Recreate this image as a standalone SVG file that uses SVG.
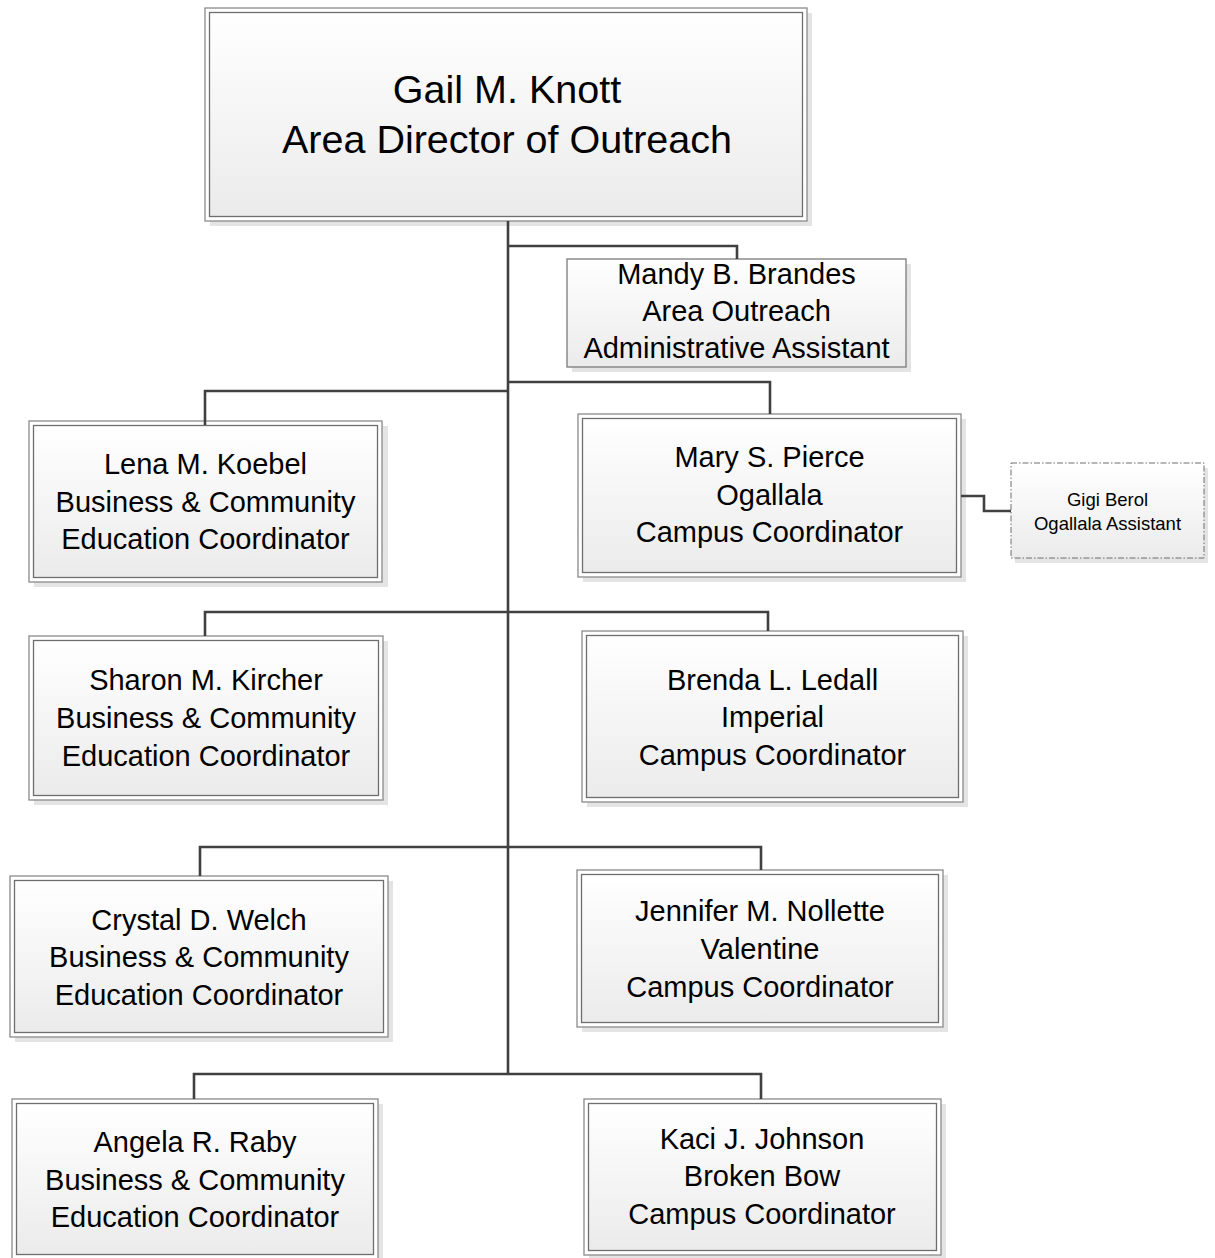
<svg xmlns="http://www.w3.org/2000/svg" width="1215" height="1258" viewBox="0 0 1215 1258">
<defs>
<linearGradient id="fillGrad" x1="0" y1="0" x2="0" y2="1">
<stop offset="0" stop-color="#ffffff"/>
<stop offset="1" stop-color="#ebebeb"/>
</linearGradient>
</defs>
<style>
.shadow{fill:#e4e4e4;stroke:none}
.outer{fill:#ffffff;stroke:#8a8a8a;stroke-width:1.3}
.inner{fill:url(#fillGrad);stroke:#6e6e6e;stroke-width:1.3}
.single{fill:url(#fillGrad);stroke:#7a7a7a;stroke-width:1.3}
.dashed{fill:url(#fillGrad);stroke:#6e6e6e;stroke-width:1;stroke-dasharray:6 2 1.5 2}
.conn{fill:none;stroke:#404040;stroke-width:2.6}
text{font-family:"Liberation Sans",Arial,sans-serif;fill:#000;text-anchor:middle}
.t-big{font-size:39.5px}
.t-mid{font-size:29px}
.t-small{font-size:18.5px}
</style>
<rect width="1215" height="1258" fill="#ffffff"/>

<g id="node-gail">
<rect class="shadow" x="210" y="13" width="602" height="213"/>
<rect class="outer" x="205" y="8" width="602" height="213"/>
<rect class="inner" x="209.5" y="12.5" width="593" height="204"/>
<text class="t-big" x="507" y="103">Gail M. Knott</text>
<text class="t-big" x="507" y="153">Area Director of Outreach</text>
</g>

<g id="node-mandy">
<rect class="shadow" x="572" y="264" width="339" height="108"/>
<rect class="single" x="567" y="259" width="339" height="108"/>
<text class="t-mid" x="736.5" y="283.5">Mandy B. Brandes</text>
<text class="t-mid" x="736.5" y="321">Area Outreach</text>
<text class="t-mid" x="736.5" y="358">Administrative Assistant</text>
</g>

<g id="node-lena">
<rect class="shadow" x="34" y="426" width="354" height="161"/>
<rect class="outer" x="29" y="421" width="353" height="161"/>
<rect class="inner" x="33.5" y="425.5" width="344" height="152"/>
<text class="t-mid" x="205.5" y="474">Lena M. Koebel</text>
<text class="t-mid" x="205.5" y="511.5">Business &amp; Community</text>
<text class="t-mid" x="205.5" y="549">Education Coordinator</text>
</g>

<g id="node-mary">
<rect class="shadow" x="583" y="419" width="383" height="163"/>
<rect class="outer" x="578" y="414" width="383" height="163"/>
<rect class="inner" x="582.5" y="418.5" width="374" height="154"/>
<text class="t-mid" x="769.5" y="467">Mary S. Pierce</text>
<text class="t-mid" x="769.5" y="505">Ogallala</text>
<text class="t-mid" x="769.5" y="542">Campus Coordinator</text>
</g>

<g id="node-gigi">
<rect class="shadow" x="1015" y="468" width="193" height="95"/>
<rect class="dashed" x="1011" y="463" width="193" height="95"/>
<text class="t-small" x="1107.5" y="506">Gigi Berol</text>
<text class="t-small" x="1107.5" y="530">Ogallala Assistant</text>
</g>

<g id="node-sharon">
<rect class="shadow" x="34" y="641" width="354" height="164"/>
<rect class="outer" x="29" y="636" width="354" height="164"/>
<rect class="inner" x="33.5" y="640.5" width="345" height="155"/>
<text class="t-mid" x="206" y="690">Sharon M. Kircher</text>
<text class="t-mid" x="206" y="728">Business &amp; Community</text>
<text class="t-mid" x="206" y="765.5">Education Coordinator</text>
</g>

<g id="node-brenda">
<rect class="shadow" x="587" y="636" width="381" height="171"/>
<rect class="outer" x="582" y="631" width="381" height="171"/>
<rect class="inner" x="586.5" y="635.5" width="372" height="162"/>
<text class="t-mid" x="772.5" y="689.5">Brenda L. Ledall</text>
<text class="t-mid" x="772.5" y="727">Imperial</text>
<text class="t-mid" x="772.5" y="764.5">Campus Coordinator</text>
</g>

<g id="node-crystal">
<rect class="shadow" x="15" y="881" width="378" height="161"/>
<rect class="outer" x="10" y="876" width="378" height="161"/>
<rect class="inner" x="14.5" y="880.5" width="369" height="152"/>
<text class="t-mid" x="199" y="929.5">Crystal D. Welch</text>
<text class="t-mid" x="199" y="967">Business &amp; Community</text>
<text class="t-mid" x="199" y="1004.5">Education Coordinator</text>
</g>

<g id="node-jennifer">
<rect class="shadow" x="582" y="875" width="366" height="157"/>
<rect class="outer" x="577" y="870" width="366" height="157"/>
<rect class="inner" x="581.5" y="874.5" width="357" height="148"/>
<text class="t-mid" x="760" y="921">Jennifer M. Nollette</text>
<text class="t-mid" x="760" y="959">Valentine</text>
<text class="t-mid" x="760" y="996.5">Campus Coordinator</text>
</g>

<g id="node-angela">
<rect class="shadow" x="17" y="1104" width="366" height="160"/>
<rect class="outer" x="12" y="1099" width="366" height="160"/>
<rect class="inner" x="16.5" y="1103.5" width="357" height="151"/>
<text class="t-mid" x="195" y="1152">Angela R. Raby</text>
<text class="t-mid" x="195" y="1189.5">Business &amp; Community</text>
<text class="t-mid" x="195" y="1227">Education Coordinator</text>
</g>

<g id="node-kaci">
<rect class="shadow" x="589" y="1104" width="357" height="156"/>
<rect class="outer" x="584" y="1099" width="357" height="156"/>
<rect class="inner" x="588.5" y="1103.5" width="348" height="147"/>
<text class="t-mid" x="762" y="1148.5">Kaci J. Johnson</text>
<text class="t-mid" x="762" y="1186">Broken Bow</text>
<text class="t-mid" x="762" y="1223.5">Campus Coordinator</text>
</g>

<g id="connectors">
<path class="conn" d="M508 221 V1074"/>
<path class="conn" d="M508 246 H737 V259"/>
<path class="conn" d="M508 382 H770 V414"/>
<path class="conn" d="M508 391 H205 V425"/>
<path class="conn" d="M205 636 V612 H768 V631"/>
<path class="conn" d="M200 876 V847 H761 V870"/>
<path class="conn" d="M194 1099 V1074 H761 V1099"/>
<path class="conn" d="M961 496 H984 V511 H1011"/>
</g>
</svg>
